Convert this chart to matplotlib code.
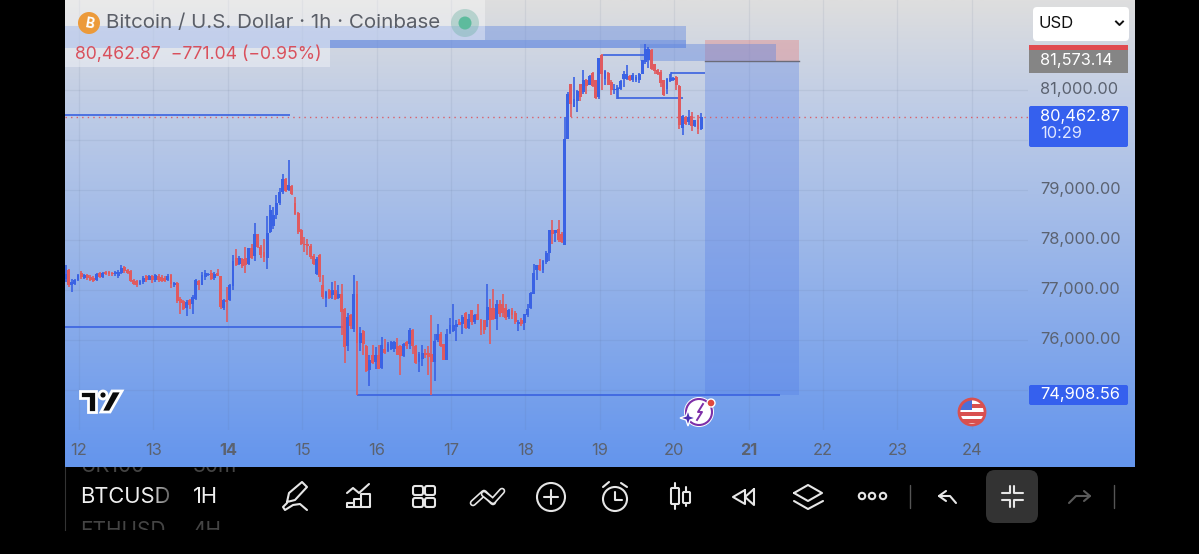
import matplotlib
matplotlib.use('Agg')
import matplotlib.pyplot as plt
import numpy as np
from matplotlib.colors import LinearSegmentedColormap
from matplotlib.patches import Circle, FancyBboxPatch, Polygon, Rectangle
from matplotlib.transforms import ScaledTranslation

W, H = 1199, 554
plt.rcParams['font.family'] = ['Inter', 'DejaVu Sans']

# hourly candles
opens = [77190,77370,77060,77080,77170,77310,77210,77260,77230,77210,77160,77310,77230,77320,77320,77310,77280,77240,77310,77430,
         77360,77350,77160,77150,77080,77120,77240,77170,77240,77160,77250,77230,77210,77160,77270,77060,77110,76790,76750,76610,
         76760,76680,76790,77150,77070,77230,77260,77310,77210,77310,77240,76610,76760,76760,77040,77610,77480,77590,77610,77490,
         77810,77640,78080,77830,77730,77610,78130,78240,78460,78710,78930,79190,78960,79040,78710,78510,78160,77890,77880,77840,
         77640,77290,77660,77060,76810,76970,76860,76970,76810,76890,76590,75840,76460,76190,76880,75910,76150,75840,75360,75660,
         75530,75660,75410,75790,75750,75790,75790,75840,75840,75640,75930,75880,76170,75840,75530,75590,75710,75710,75680,75530,
         75960,76090,75880,75570,76110,76150,76230,76330,76280,76510,76210,76560,76330,76480,76370,76360,76360,76610,76610,76390,
         76680,76690,76610,76430,76560,76510,76280,76370,76310,76460,76610,76890,77360,77460,77360,77530,77710,78160,78100,78190,
         78090,77860,79990,81080,80630,80750,81080,80930,81160,81060,81310,81160,80830,81660,81190,81310,81130,80960,80960,80990,
         81190,81190,81240,81160,81160,81160,81290,81530,81560,81770,81480,81370,81330,81160,80990,81150,81160,81230,81040,80210,
         80430,80330,80440,80240,80360,80190]
highs = [77460,77390,77190,77190,77280,77350,77280,77290,77260,77240,77310,77330,77330,77350,77350,77330,77350,77360,77460,77450,
         77390,77360,77190,77160,77170,77240,77260,77260,77260,77290,77280,77260,77240,77280,77280,77130,77130,76830,76760,76760,
         76790,76860,77190,77160,77330,77370,77310,77360,77330,77390,77240,76790,77030,77090,77660,77790,77640,77610,77830,77810,
         77890,78310,78090,77860,77990,78440,78660,78630,78860,79010,79290,79210,79560,79060,78830,78530,78190,78030,77990,77890,
         77690,77630,77690,77260,76950,76990,77130,77150,77060,77090,76610,76510,76490,77260,77140,76230,76160,75860,75660,75860,
         75830,75860,76030,75990,75930,75950,75950,76010,75860,75910,75950,76210,76190,75860,75730,75860,75790,75840,76460,76090,
         76290,76130,75890,76190,76410,76680,76360,76390,76460,76530,76490,76570,76480,76680,76390,76370,77080,76790,76990,76760,
         76760,76890,76690,76590,76610,76550,76370,76410,76490,76680,76930,77490,77460,77590,77560,77750,78160,78370,78160,78370,
         78130,80430,80930,81090,81230,80960,81090,81360,81190,81260,81330,81160,81610,81680,81370,81330,81160,81090,81060,81160,
         81350,81460,81260,81310,81260,81310,81560,81880,81830,81790,81490,81390,81370,81170,81210,81290,81230,81240,81060,80460,
         80440,80570,80530,80370,80460,80510]
lows = [77130,77030,76930,77060,77150,77190,77190,77170,77150,77130,77150,77210,77210,77260,77240,77240,77240,77210,77290,77310,
        77280,77130,77060,77030,77060,77090,77130,77160,77110,77130,77130,77130,77130,77150,77010,77030,76710,76490,76560,76440,
        76590,76490,76770,76960,77060,77170,77240,77170,77170,77240,76590,76560,76330,76750,76960,77440,77460,77410,77310,77460,
        77590,77550,77810,77610,77530,77390,78110,78190,78390,78660,78890,78930,78950,78860,78460,78090,77860,77730,77660,77590,
        77460,77260,77130,76790,76630,76790,76790,76770,76790,76060,75510,75750,76190,76130,74870,75750,75660,75330,75040,75490,
        75390,75390,75390,75690,75730,75760,75730,75660,75260,75630,75790,75790,75690,75490,75330,75440,75610,75260,74870,75150,
        75930,75830,75560,75560,76090,76130,75950,76260,76080,76190,76190,76260,76290,76360,76060,76080,76230,75890,76360,76160,
        76430,76430,76370,76390,76390,76290,76150,76240,76170,76430,76590,76880,77170,77350,77310,77480,77550,77890,77930,77930,
        77910,77860,79980,80430,80630,80530,80750,80890,80880,81060,81030,80790,80790,80960,81060,81060,80860,80890,80790,80970,
        81030,81160,81150,81130,81130,81110,81290,81490,81410,81370,81290,81260,81030,80840,80880,81130,81150,80970,80190,80060,
        80260,80260,80150,80230,80090,80160]
closes = [77290,77060,77130,77170,77260,77230,77260,77210,77170,77150,77280,77230,77310,77280,77290,77280,77320,77330,77410,77350,
          77310,77150,77090,77060,77150,77210,77160,77240,77160,77270,77160,77150,77150,77250,77080,77110,76750,76710,76590,76730,
          76660,76830,77170,77060,77260,77310,77290,77190,77290,77240,76630,76760,76730,77060,77550,77460,77610,77440,77460,77810,
          77610,78090,77830,77660,77630,78110,78560,78460,78710,78930,79190,78950,79060,78890,78490,78130,77890,77860,77840,77630,
          77490,77590,77230,76830,76930,76810,76970,76790,76890,76530,75830,76430,76240,76880,75910,76110,75880,75350,75560,75510,
          75660,75390,75860,75710,75880,75930,75930,75660,75640,75890,75840,76160,75840,75510,75690,75710,75660,75630,75530,75950,
          76090,75840,75560,76090,76260,76260,76280,76260,76430,76210,76390,76330,76460,76370,76170,76160,76630,76360,76390,76690,
          76490,76510,76410,76570,76460,76330,76330,76290,76480,76590,76910,77310,77460,77360,77550,77710,78160,78090,78160,77960,
          77930,79990,80890,80690,80790,80950,80830,81160,81040,81240,81040,80810,81610,81290,81350,81060,80960,80990,81010,81150,
          81290,81280,81160,81260,81230,81290,81560,81790,81790,81390,81350,81290,81110,80860,81190,81210,81210,81060,80260,80440,
          80290,80430,80240,80360,80190,80423]
# candles above were read 2 px high against the grid, 40 in price
READ_SHIFT = 40

# 75,000 and 80,000 sit behind the blue price tags
y_ticks = [75000, 76000, 77000, 78000, 79000, 80000, 81000]
y_labels = ['', '76,000.00', '77,000.00', '78,000.00', '79,000.00', '', '81,000.00']
x_ticks = [12, 13, 14, 15, 16, 17, 18, 19, 20, 21, 22, 23, 24]

last_price = 80462.87
entry_price = 81573.14
target_price = 74908.56

# drawn levels: start day, end day, price
levels = [(11.812, 14.836, 80500), (11.812, 15.575, 76260), (15.737, 21.422, target_price),
          (19.043, 19.608, 81700), (19.245, 20.118, 80840), (19.957, 20.414, 81340)]
# zones: start day, end day, low, high
zones = [(11.812, 20.159, 81840, 82280), (15.374, 20.159, 81840, 82000), (19.540, 21.368, 81573, 81920)]

fig = plt.figure(figsize=(W / 100, H / 100), dpi=100, facecolor='black')

# gradient behind the chart
bg = fig.add_axes([65 / W, (H - 467) / H, 1070 / W, 467 / H], zorder=0)
cmap = LinearSegmentedColormap.from_list('bg', [(0, '#dedede'), (0.22, '#c0cde6'), (1, '#6495ed')])
bg.imshow(np.linspace(0, 1, 256).reshape(-1, 1), aspect='auto', cmap=cmap)
bg.axis('off')

ax = fig.add_axes([65 / W, (H - 430) / H, 963 / W, 430 / H], zorder=1)
ax.patch.set_alpha(0)
ax.set_xlim(11.812, 24.755)
ax.set_ylim(74200, 82800)
for s in ax.spines.values():
    s.set_visible(False)
ax.grid(True, color='#5a6a8a', alpha=0.1, linewidth=0.9)
ax.set_axisbelow(True)
ax.set_xticks(x_ticks)
ax.set_yticks(y_ticks)
ax.set_yticklabels(y_labels)
ax.yaxis.tick_right()
ax.tick_params(axis='both', length=0, labelcolor='#5b6270', labelsize=11.8)
ax.tick_params(axis='y', pad=8.5)
ax.tick_params(axis='x', pad=9.5)
for lab in ax.get_xticklabels():
    if lab.get_text() in ('14', '21'):
        lab.set_fontweight('bold')
up2 = ScaledTranslation(0, 2 / 100, fig.dpi_scale_trans)
for lab in ax.get_yticklabels():
    lab.set_horizontalalignment('left')
    lab.set_transform(lab.get_transform() + up2)

# position boxes
ax.add_patch(Rectangle((20.414, target_price), 1.263, entry_price - target_price, color='#4f79e6', alpha=0.3, lw=0, zorder=1.5))
ax.add_patch(Rectangle((20.414, entry_price), 1.263, 82000 - entry_price, color='#e57373', alpha=0.35, lw=0, zorder=1.5))
ax.plot([20.414, 21.677], [entry_price, entry_price], color='#6b6b78', lw=1, zorder=1.6)
for x0, x1, lo, hi in zones:
    ax.add_patch(Rectangle((x0, lo), x1 - x0, hi - lo, color='#5f86e0', alpha=0.42, lw=0, zorder=1.7))

for x0, x1, p in levels:
    ax.plot([x0, x1], [p, p], color='#3a62e0', lw=1.2, zorder=2, solid_capstyle='butt')
ax.plot([19.245, 19.245], [80840, 81040], color='#3a62e0', lw=1.2, zorder=2)
ax.plot([19.957, 19.957], [81200, 81340], color='#3a62e0', lw=1.2, zorder=2)

ax.axhline(last_price, color='#d9606a', lw=1, dashes=(1, 3), zorder=2)

o = np.array(opens) + READ_SHIFT
h = np.array(highs) + READ_SHIFT
l = np.array(lows) + READ_SHIFT
c = np.array(closes) + READ_SHIFT
days = 11.82 + np.arange(len(c)) / 24
up = c >= o
cols = np.where(up, '#3a62e4', '#e05a5f')
ax.vlines(days, l, h, colors=cols, lw=1.2, zorder=3)
ax.bar(days, np.abs(c - o), bottom=np.minimum(o, c), width=2.9 / 74.4, color=cols, lw=0, zorder=3)

# app chrome, in pixels
ui = fig.add_axes([0, 0, 1, 1], zorder=2)
ui.set_xlim(0, W)
ui.set_ylim(H, 0)
ui.axis('off')
ui.patch.set_alpha(0)

ui.add_patch(Rectangle((65, 0), 420, 40, color='white', alpha=0.36, lw=0))
ui.add_patch(Rectangle((65, 40), 265, 27, color='white', alpha=0.36, lw=0))
ui.add_patch(Circle((89, 23), 11, color='#ec9a3a', lw=0))
ui.text(89, 23.5, 'B', color='white', fontsize=10, fontweight='bold', ha='center', va='center', rotation=-10)
ui.text(106, 23.5, 'Bitcoin / U.S. Dollar · 1h · Coinbase', color='#5b5f68', fontsize=14.8, va='center')
ui.add_patch(Circle((465, 23), 14, color='#6fb3a5', alpha=0.4, lw=0))
ui.add_patch(Circle((465, 23), 6.5, color='#5dbb9d', lw=0))
ui.text(75, 54, '80,462.87  −771.04 (−0.95%)', color='#d9505c', fontsize=12.7, va='center')

# price tags
ui.add_patch(FancyBboxPatch((1035, 9), 92, 30, boxstyle='round,pad=2,rounding_size=4', color='white', lw=0))
ui.text(1039, 23, 'USD', color='#111111', fontsize=12, va='center')
ui.plot([1116, 1119.5, 1123], [21.5, 25, 21.5], color='#111111', lw=1.4)
ui.add_patch(Rectangle((1029, 45), 99, 5, color='#e04a50', lw=0))
ui.add_patch(Rectangle((1029, 50), 99, 23, color='#858585', lw=0))
ui.text(1040, 60.5, '81,573.14', color='white', fontsize=11.8, va='center')
ui.add_patch(FancyBboxPatch((1030, 107), 97, 39, boxstyle='round,pad=1,rounding_size=2', color='#3560ee', lw=0))
ui.text(1040, 116, '80,462.87', color='white', fontsize=11.8, va='center')
ui.text(1040, 134, '10:29', color='#dfe6ff', fontsize=11.8, va='center')
ui.add_patch(FancyBboxPatch((1030, 386), 97, 18, boxstyle='round,pad=1,rounding_size=2', color='#3560ee', lw=0))
ui.text(1040, 394, '74,908.56', color='white', fontsize=11.8, va='center')

# tradingview mark
logo = dict(facecolor='#0b0b0b', edgecolor='white', lw=2, joinstyle='miter')
ui.add_patch(Polygon([(80, 391), (96, 391), (96, 412), (88, 412), (88, 398), (80, 398)], **logo))
ui.add_patch(Circle((103, 395), 4, **{k: v for k, v in logo.items() if k != 'joinstyle'}))
ui.add_patch(Polygon([(112, 391), (122, 391), (110, 412), (101, 412)], **logo))

# event icons
ui.add_patch(Circle((699, 412), 15, color='white', lw=0))
ui.add_patch(Circle((699, 412), 13, facecolor='white', edgecolor='#7d2fa8', lw=1.5))
ui.plot([703, 698, 702, 697], [404, 412, 412, 420], color='#7d2fa8', lw=1.4)
ui.add_patch(Polygon([(688, 410), (690, 416), (696, 418), (690, 420), (688, 426), (686, 420), (680, 418), (686, 416)],
                     facecolor='#4b2fb0', edgecolor='white', lw=1))
ui.add_patch(Circle((711, 403), 4, facecolor='#e0483e', edgecolor='white', lw=1))

ring = Circle((972, 412), 13, facecolor='none', edgecolor='#d9504f', lw=2, zorder=2.5)
ui.add_patch(Circle((972, 412), 13, facecolor='white', lw=0))
for y0 in (404, 412, 419):
    r = Rectangle((958, y0), 30, 3.5, color='#d9504f', lw=0)
    ui.add_patch(r)
    r.set_clip_path(Circle((972, 412), 13, transform=ui.transData))
r = Rectangle((958, 398), 14, 12, color='#4b6fd8', lw=0)
ui.add_patch(r)
r.set_clip_path(Circle((972, 412), 13, transform=ui.transData))
ui.add_patch(ring)

# toolbar
clip = Rectangle((65, 467), 1070, 63, transform=ui.transData)
ui.plot([65, 65], [467, 530], color='#333333', lw=0.8)
for txt, x, y in [('UK100', 80, 466), ('30m', 193, 466), ('ETHUSD', 80, 531), ('4H', 193, 531)]:
    t = ui.text(x, y, txt, color='#444444', fontsize=15, va='center', clip_on=True)
    t.set_clip_path(clip)
ui.text(80, 497, 'BTCUSD', color='#f0f0f0', fontsize=15.8, va='center')
ui.text(193, 497, '1H', color='#f0f0f0', fontsize=15.8, va='center')
fade = np.zeros((1, 32, 4))
fade[0, :, 3] = np.linspace(0, 1, 32)
ui.imshow(fade, extent=(150, 182, 510, 485), aspect='auto', zorder=3)
ui.set_xlim(0, W)
ui.set_ylim(H, 0)

ic = dict(color='#e6e6e6', lw=1.5, solid_capstyle='round', solid_joinstyle='round')


def line(pts, **kw):
    xs, ys = zip(*pts)
    style = dict(ic)
    style.update(kw)
    ui.plot(xs, ys, **style)


def outline(x0, y0, x1, y1, rnd=2):
    ui.add_patch(FancyBboxPatch((x0, y0), x1 - x0, y1 - y0, boxstyle=f'round,pad=0,rounding_size={rnd}',
                                fc='none', ec='#e6e6e6', lw=1.5))


line([(287, 502), (289, 493), (302, 482), (307, 487), (295, 500), (287, 502)])
line([(287, 503), (283, 507), (285, 510), (293, 505), (300, 504), (307, 510)])
line([(347, 493), (353, 488), (359, 493), (369, 484)])
line([(347, 507), (347, 503), (354, 503), (354, 499), (361, 499), (361, 494), (370, 494), (370, 507), (347, 507)])
line([(354, 503), (354, 507)])
line([(361, 499), (361, 507)])
for x0 in (413, 425):
    for y0 in (486, 498):
        outline(x0, y0, x0 + 10, y0 + 9)
for pts in ([(473, 503), (484, 493), (493, 502)], [(484, 494), (493, 501), (502, 491)]):
    line(pts, lw=4.8, solid_capstyle='round')
    line(pts, lw=2.4, color='black', solid_capstyle='round')
ui.add_patch(Circle((551, 497), 14, fc='none', ec='#e6e6e6', lw=1.5))
line([(551, 490), (551, 504)])
line([(544, 497), (558, 497)])
ui.add_patch(Circle((615, 499), 12, fc='none', ec='#e6e6e6', lw=1.5))
line([(603, 487), (609, 482)])
line([(621, 483), (627, 487)])
line([(615, 492), (615, 500), (622, 500)])
outline(671, 488, 679, 504, 1)
line([(675, 483), (675, 488)])
line([(675, 504), (675, 509)])
outline(683, 492, 690, 503, 1)
line([(686, 487), (686, 492)])
line([(686, 503), (686, 506)])
line([(745, 490), (733, 497), (745, 504), (745, 490)])
line([(754, 489), (745, 497), (754, 505), (754, 489)])
line([(794, 493), (808, 485), (822, 493), (808, 501), (794, 493)])
line([(794, 501), (808, 509), (823, 501)])
for x in (862, 872, 883):
    ui.add_patch(Circle((x, 496), 3.2, fc='none', ec='#e6e6e6', lw=1.5))
line([(910, 485), (910, 508)], color='#555555', lw=1)
line([(946, 491), (939, 496), (946, 501)])
line([(939, 496), (950, 496), (956, 503)])
ui.add_patch(FancyBboxPatch((986, 470), 52, 53, boxstyle='round,pad=0,rounding_size=9', color='#333333', lw=0))
line([(1002, 493), (1010, 493), (1010, 486)])
line([(1023, 493), (1014, 493), (1014, 486)])
line([(1002, 500), (1010, 500), (1010, 507)])
line([(1023, 500), (1014, 500), (1014, 507)])
line([(1084, 491), (1090, 496), (1084, 501)], color='#5a5a5a')
line([(1090, 496), (1076, 496), (1069, 503)], color='#5a5a5a')
line([(1114, 485), (1114, 508)], color='#555555', lw=1)

fig.savefig('out.png', dpi=100, facecolor='black')
